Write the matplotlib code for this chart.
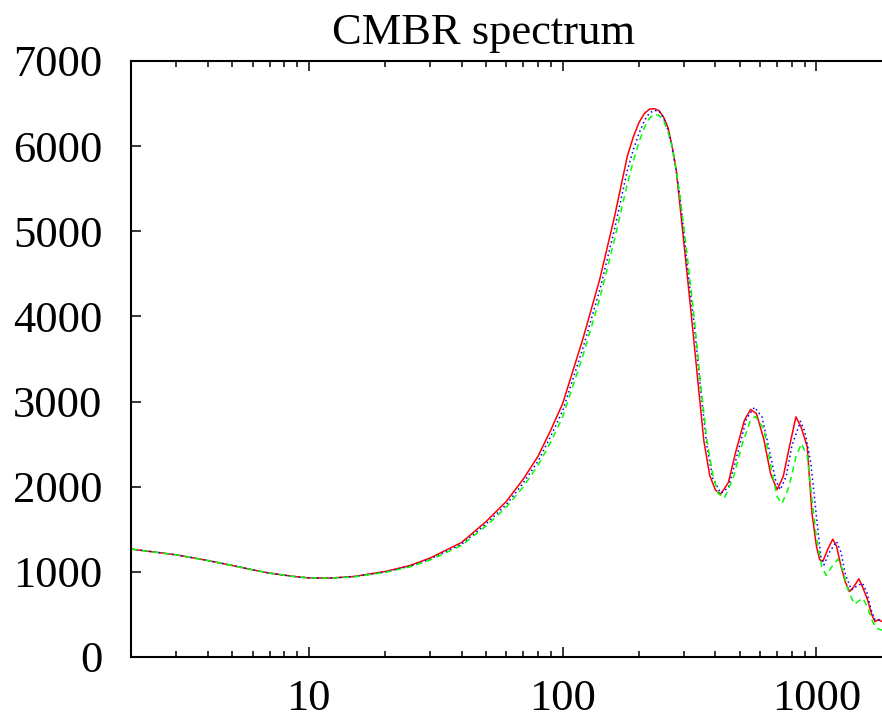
import matplotlib
matplotlib.use("Agg")
import matplotlib.pyplot as plt
from matplotlib.ticker import LogLocator, FixedLocator, NullFormatter

# multipole l and power for the three models
l_red = [2, 3, 4, 5, 6, 7, 8, 9, 10, 12, 15, 20, 25, 30, 40, 50, 60, 70, 80, 90,
         100, 120, 140, 160, 180, 190, 200, 210, 220, 230, 240, 250, 260, 270, 280,
         290, 300, 320, 340, 360, 380, 400, 420, 450, 480, 520, 550, 580, 620, 660,
         700, 740, 780, 830, 870, 920, 960, 1000, 1030, 1060, 1110, 1160, 1200,
         1250, 1300, 1350, 1400, 1470, 1530, 1590, 1650, 1700, 1760, 1800, 1870]
cl_red = [1267, 1200, 1133, 1074, 1024, 985, 961, 941, 929, 926, 945, 1004, 1074,
          1161, 1345, 1592, 1827, 2090, 2357, 2671, 2976, 3729, 4435, 5167, 5886,
          6110, 6278, 6385, 6435, 6440, 6415, 6340, 6220, 6000, 5729, 5300, 4880,
          4072, 3280, 2540, 2130, 1960, 1914, 2050, 2400, 2780, 2906, 2860, 2560,
          2150, 1965, 2120, 2450, 2820, 2700, 2470, 1690, 1300, 1141, 1125, 1270,
          1384, 1300, 1063, 880, 768, 820, 918, 800, 671, 500, 415, 440, 420, 400]

l_blue = [2, 3, 4, 5, 6, 7, 8, 9, 10, 12, 15, 20, 25, 30, 40, 50, 60, 70, 80, 90,
          100, 120, 140, 160, 180, 190, 200, 210, 220, 230, 240, 250, 260, 270, 280,
          290, 300, 310, 330, 350, 370, 390, 420, 450, 490, 530, 570, 610, 650, 690,
          720, 760, 800, 865, 900, 950, 1000, 1040, 1070, 1120, 1199, 1250, 1300,
          1374, 1440, 1517, 1580, 1640, 1700, 1760, 1800, 1870]
cl_blue = [1267, 1200, 1133, 1074, 1024, 985, 961, 941, 929, 926, 943, 998, 1065,
           1148, 1325, 1565, 1790, 2045, 2300, 2600, 2890, 3620, 4310, 5020, 5720,
           5960, 6150, 6300, 6390, 6420, 6410, 6330, 6190, 5980, 5720, 5400, 5000,
           4580, 3900, 3130, 2480, 2100, 1925, 1990, 2400, 2800, 2933, 2820, 2450,
           2080, 1965, 2120, 2480, 2768, 2650, 2280, 1650, 1180, 1082, 1220, 1357,
           1230, 970, 788, 830, 867, 760, 560, 440, 430, 440, 430]

l_green = [2, 3, 4, 5, 6, 7, 8, 9, 10, 12, 15, 20, 25, 30, 40, 50, 60, 70, 80, 90,
           100, 120, 140, 160, 180, 190, 200, 210, 220, 230, 240, 250, 260, 270, 280,
           290, 300, 310, 330, 350, 370, 390, 410, 434, 470, 510, 550, 574, 620, 660,
           700, 731, 780, 830, 873, 920, 960, 1000, 1050, 1092, 1150, 1214, 1270,
           1340, 1413, 1470, 1524, 1590, 1650, 1720, 1800, 1870]
cl_green = [1267, 1200, 1133, 1074, 1024, 985, 961, 941, 929, 924, 940, 993, 1058,
            1138, 1310, 1540, 1760, 2000, 2250, 2530, 2820, 3530, 4210, 4900, 5560,
            5830, 6050, 6220, 6330, 6375, 6360, 6300, 6170, 5990, 5730, 5400, 5050,
            4700, 3980, 3200, 2550, 2150, 1920, 1867, 2100, 2500, 2780, 2827, 2680,
            2250, 1880, 1800, 2000, 2350, 2506, 2360, 1850, 1400, 1060, 957, 1060,
            1149, 1020, 760, 620, 660, 690, 580, 440, 340, 318, 310]

plt.rcParams['font.family'] = ['Liberation Serif', 'DejaVu Serif']

fig = plt.figure(figsize=(8.82, 7.21), dpi=100)
ax = fig.add_axes([0.149, 0.0888, 0.8633, 0.8266])

ax.plot(l_red, cl_red, color='#ff0000', lw=1.1, ls='-')
ax.plot(l_blue, cl_blue, color='#0000ff', lw=1.1, ls=(0, (1, 2)))
ax.plot(l_green, cl_green, color='#00ff00', lw=1.1, ls=(0, (4, 3)))

ax.set_xscale('log')
ax.set_xlim(2, 2000)
ax.set_ylim(0, 7000)
ax.set_yticks(range(0, 7001, 1000))
ax.xaxis.set_major_locator(FixedLocator([10, 100, 1000]))
ax.set_xticklabels(['10', '100', '1000'])
ax.xaxis.set_minor_locator(LogLocator(base=10, subs=range(2, 10)))
ax.xaxis.set_minor_formatter(NullFormatter())

for s in ax.spines.values():
    s.set_linewidth(1.5)
ax.spines['right'].set_visible(False)

ax.tick_params(axis='both', which='both', direction='in', top=True, right=False,
               labelsize=32)
ax.tick_params(axis='both', which='major', length=7.5, width=1.1)
ax.tick_params(axis='x', which='minor', length=4, width=1.1)
ax.tick_params(axis='x', which='major', pad=16)
ax.tick_params(axis='y', which='major', pad=21)

# gnuplot centres the title on the full (uncropped) canvas
ax.set_title('CMBR spectrum', fontsize=32, pad=12, x=0.463)

fig.savefig('out.png', dpi=100)
